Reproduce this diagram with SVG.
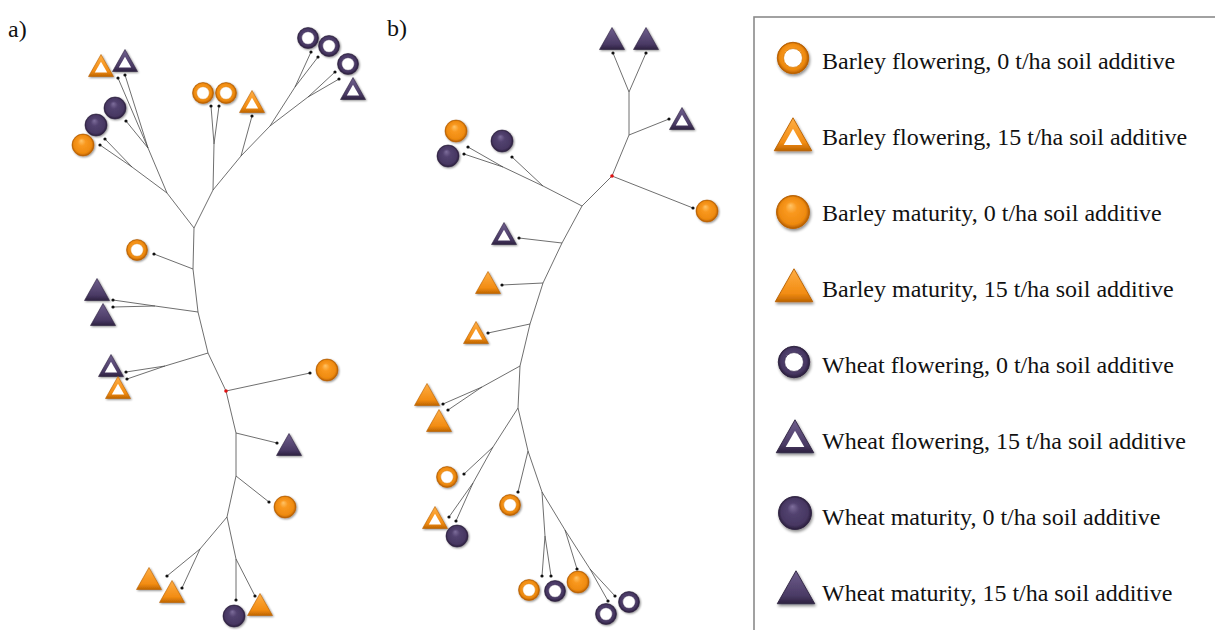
<svg xmlns="http://www.w3.org/2000/svg" xmlns:xlink="http://www.w3.org/1999/xlink" width="1215" height="630" viewBox="0 0 1215 630">
<style>
.edge{fill:none;stroke:#4a4a4a;stroke-width:0.8}
.tip{fill:#111}
.lbl{font-family:"Liberation Serif","Times New Roman",serif;fill:#111}
.leg{font-family:"Liberation Serif","Times New Roman",serif;font-size:24px;fill:#111}
</style>
<defs>
<filter id="sh" x="-30%" y="-30%" width="160%" height="170%">
<feGaussianBlur in="SourceAlpha" stdDeviation="0.9"/>
<feOffset dx="0.6" dy="1.2" result="b"/>
<feComponentTransfer><feFuncA type="linear" slope="0.45"/></feComponentTransfer>
<feMerge><feMergeNode/><feMergeNode in="SourceGraphic"/></feMerge>
</filter>
<radialGradient id="og" cx="0.5" cy="0.5" r="0.5" fx="0.42" fy="0.3">
<stop offset="0" stop-color="#FFC467"/><stop offset="0.35" stop-color="#F9981F"/><stop offset="0.82" stop-color="#EE8A0F"/><stop offset="1" stop-color="#B45C00"/>
</radialGradient>
<radialGradient id="pg" cx="0.5" cy="0.5" r="0.5" fx="0.42" fy="0.3">
<stop offset="0" stop-color="#7E6E9C"/><stop offset="0.35" stop-color="#52426F"/><stop offset="0.82" stop-color="#473762"/><stop offset="1" stop-color="#2A1E3C"/>
</radialGradient>
<linearGradient id="otg" x1="0" y1="0" x2="0" y2="1">
<stop offset="0" stop-color="#FFAE45"/><stop offset="0.75" stop-color="#F28C12"/><stop offset="1" stop-color="#BE6500"/>
</linearGradient>
<linearGradient id="ptg" x1="0" y1="0" x2="0" y2="1">
<stop offset="0" stop-color="#6F5F8D"/><stop offset="0.75" stop-color="#4A3A65"/><stop offset="1" stop-color="#2E2240"/>
</linearGradient>
<g id="bf0" filter="url(#sh)"><circle r="10.5" fill="url(#og)" stroke="#B86000" stroke-width="0.6"/><circle r="6.3" fill="#fff" stroke="#D67A08" stroke-width="0.5"/></g>
<g id="wf0" filter="url(#sh)"><circle r="10.5" fill="url(#pg)" stroke="#2E2240" stroke-width="0.6"/><circle r="6.3" fill="#fff" stroke="#3C2E52" stroke-width="0.5"/></g>
<g id="bm0" filter="url(#sh)"><circle r="11" fill="url(#og)" stroke="#B86000" stroke-width="0.6"/></g>
<g id="wm0" filter="url(#sh)"><circle r="11" fill="url(#pg)" stroke="#2E2240" stroke-width="0.6"/></g>
<g id="bf15" filter="url(#sh)"><polygon points="0,-11.5 12.5,10.5 -12.5,10.5" fill="url(#otg)" stroke="#B86000" stroke-width="0.6" stroke-linejoin="round"/><polygon points="0,-4.2 6.2,6.6 -6.2,6.6" fill="#fff"/></g>
<g id="wf15" filter="url(#sh)"><polygon points="0,-11.5 12.5,10.5 -12.5,10.5" fill="url(#ptg)" stroke="#2E2240" stroke-width="0.6" stroke-linejoin="round"/><polygon points="0,-4.2 6.2,6.6 -6.2,6.6" fill="#fff"/></g>
<g id="bm15" filter="url(#sh)"><polygon points="0,-11.5 12.5,10.5 -12.5,10.5" fill="url(#otg)" stroke="#B86000" stroke-width="0.6" stroke-linejoin="round"/></g>
<g id="wm15" filter="url(#sh)"><polygon points="0,-11.5 12.5,10.5 -12.5,10.5" fill="url(#ptg)" stroke="#2E2240" stroke-width="0.6" stroke-linejoin="round"/></g>
</defs>
<rect width="1215" height="630" fill="#fff"/>

<text class="lbl" x="8" y="37" font-size="24">a)</text>
<text class="lbl" x="387" y="36" font-size="24">b)</text>

<g id="connectors">
<!-- tree a -->
<polyline class="edge" points="194,228 193,269 198,312 208,353 226,391 236,433 236,476 227,517"/>
<path class="edge" d="M194,228 L167,193 M194,228 L213,190
M167,193 L148,148 L118,78 M148,148 L125,75 M148,148 L126,121
M167,193 L132,167 L105,139 M132,167 L100,145
M213,190 L214,144 L211,106 M214,144 L219,106
M213,190 L241,156 L252,116 M241,156 L270,126 L295,87 L311,52 M295,87 L318,57 M270,126 L308,97 L335,72 M308,97 L339,79
M193,269 L154,254
M198,312 L155,306 L113,300 M155,306 L113,307
M208,353 L165,366 L126,372 M165,366 L127,379
M226,391 L310,373
M236,433 L277,443
M236,476 L269,502
M227,517 L200,549 L167,576 M200,549 L182,588
M227,517 L236,559 L236,600 M236,559 L255,596"/>
<!-- tree b -->
<polyline class="edge" points="629,92 629,135 612,176 582,206 562,243 543,283 530,324 520,366 518,408"/>
<path class="edge" d="M629,92 L613,53 M629,92 L646,53
M629,135 L669,119
M612,176 L693,208
M582,206 L543,186 L503,167 L468,147 M503,167 L464,154 M543,186 L512,157
M562,243 L519,238
M543,283 L502,285
M530,324 L488,333
M520,366 L482,387 L443,404 M482,387 L448,410
M518,408 L493,447 L464,474 M493,447 L473,483 L449,517 M473,483 L456,521
M518,408 L528,451 L518,492 M528,451 L542,492 L545,536 L542,576 M545,536 L551,576
M542,492 L565,530 L577,569 M565,530 L590,569 L608,601 M590,569 L615,596"/>
<g class="tip">
<circle cx="154" cy="254" r="1.6"/><circle cx="113" cy="300" r="1.6"/><circle cx="113" cy="307" r="1.6"/><circle cx="126" cy="372" r="1.6"/><circle cx="127" cy="379" r="1.6"/><circle cx="310" cy="373" r="1.6"/><circle cx="277" cy="443" r="1.6"/><circle cx="269" cy="502" r="1.6"/><circle cx="167" cy="576" r="1.6"/><circle cx="182" cy="588" r="1.6"/><circle cx="236" cy="600" r="1.6"/><circle cx="255" cy="596" r="1.6"/><circle cx="118" cy="78" r="1.6"/><circle cx="125" cy="75" r="1.6"/><circle cx="126" cy="121" r="1.6"/><circle cx="105" cy="139" r="1.6"/><circle cx="100" cy="145" r="1.6"/><circle cx="211" cy="106" r="1.6"/><circle cx="219" cy="106" r="1.6"/><circle cx="252" cy="116" r="1.6"/><circle cx="311" cy="52" r="1.6"/><circle cx="318" cy="57" r="1.6"/><circle cx="335" cy="72" r="1.6"/><circle cx="339" cy="79" r="1.6"/>
<circle cx="613" cy="53" r="1.6"/><circle cx="646" cy="53" r="1.6"/><circle cx="669" cy="119" r="1.6"/><circle cx="693" cy="208" r="1.6"/><circle cx="468" cy="147" r="1.6"/><circle cx="464" cy="154" r="1.6"/><circle cx="512" cy="157" r="1.6"/><circle cx="519" cy="238" r="1.6"/><circle cx="502" cy="285" r="1.6"/><circle cx="488" cy="333" r="1.6"/><circle cx="443" cy="404" r="1.6"/><circle cx="448" cy="410" r="1.6"/><circle cx="464" cy="474" r="1.6"/><circle cx="449" cy="517" r="1.6"/><circle cx="456" cy="521" r="1.6"/><circle cx="518" cy="492" r="1.6"/><circle cx="542" cy="576" r="1.6"/><circle cx="551" cy="576" r="1.6"/><circle cx="577" cy="569" r="1.6"/><circle cx="608" cy="601" r="1.6"/><circle cx="615" cy="596" r="1.6"/>
</g>
<circle cx="226" cy="391" r="1.8" fill="#e01010"/>
<circle cx="612" cy="176" r="1.8" fill="#e01010"/>
</g>

<!-- tree a leaves -->
<g id="a01"><use href="#bf15" x="101" y="66"/></g>
<g id="a02"><use href="#wf15" x="125" y="61"/></g>
<g id="a03"><use href="#wm0" x="115" y="108"/></g>
<g id="a04"><use href="#wm0" x="96" y="125"/></g>
<g id="a05"><use href="#bm0" x="83" y="145"/></g>
<g id="a06"><use href="#bf0" x="203" y="93"/></g>
<g id="a07"><use href="#bf0" x="226" y="93"/></g>
<g id="a08"><use href="#bf15" x="252" y="102"/></g>
<g id="a09"><use href="#wf0" x="308" y="38"/></g>
<g id="a10"><use href="#wf0" x="329" y="46"/></g>
<g id="a11"><use href="#wf0" x="348" y="64"/></g>
<g id="a12"><use href="#wf15" x="353" y="89"/></g>
<g id="a13"><use href="#bf0" x="137" y="250"/></g>
<g id="a14"><use href="#wm15" x="97" y="290"/></g>
<g id="a15"><use href="#wm15" x="103" y="315"/></g>
<g id="a16"><use href="#wf15" x="111" y="366"/></g>
<g id="a17"><use href="#bf15" x="118" y="388"/></g>
<g id="a18"><use href="#bm0" x="327" y="370"/></g>
<g id="a19"><use href="#wm15" x="289" y="445"/></g>
<g id="a20"><use href="#bm0" x="285" y="507"/></g>
<g id="a21"><use href="#bm15" x="149" y="579"/></g>
<g id="a22"><use href="#bm15" x="172" y="592"/></g>
<g id="a23"><use href="#wm0" x="234" y="616"/></g>
<g id="a24"><use href="#bm15" x="260" y="605"/></g>

<!-- tree b leaves -->
<g id="b01"><use href="#wm15" x="612" y="39"/></g>
<g id="b02"><use href="#wm15" x="646" y="39"/></g>
<g id="b03"><use href="#wf15" x="682" y="119"/></g>
<g id="b04"><use href="#bm0" x="707" y="211"/></g>
<g id="b05"><use href="#bm0" x="456" y="131"/></g>
<g id="b06"><use href="#wm0" x="448" y="156"/></g>
<g id="b07"><use href="#wm0" x="502" y="141"/></g>
<g id="b08"><use href="#wf15" x="504" y="234"/></g>
<g id="b09"><use href="#bm15" x="488" y="283"/></g>
<g id="b10"><use href="#bf15" x="476" y="333"/></g>
<g id="b11"><use href="#bm15" x="427" y="395"/></g>
<g id="b12"><use href="#bm15" x="439" y="421"/></g>
<g id="b13"><use href="#bf0" x="447" y="477"/></g>
<g id="b14"><use href="#bf15" x="435" y="518"/></g>
<g id="b15"><use href="#wm0" x="457" y="536"/></g>
<g id="b16"><use href="#bf0" x="510" y="505"/></g>
<g id="b17"><use href="#bf0" x="529" y="590"/></g>
<g id="b18"><use href="#wf0" x="555" y="591"/></g>
<g id="b19"><use href="#bm0" x="578" y="582"/></g>
<g id="b20"><use href="#wf0" x="606" y="614"/></g>
<g id="b21"><use href="#wf0" x="629" y="602"/></g>

<!-- legend -->
<g id="legend">
<rect x="754" y="17" width="480" height="640" fill="none" stroke="#8a8a8a" stroke-width="1.6"/>
<g id="leg1"><use href="#bf0" transform="translate(793,58) scale(1.5)"/><text class="leg" x="822" y="69">Barley flowering, 0 t/ha soil additive</text></g>
<g id="leg2"><use href="#bf15" transform="translate(793,135) scale(1.5)"/><text class="leg" x="822" y="145">Barley flowering, 15 t/ha soil additive</text></g>
<g id="leg3"><use href="#bm0" transform="translate(793,212) scale(1.5)"/><text class="leg" x="822" y="221">Barley maturity, 0 t/ha soil additive</text></g>
<g id="leg4"><use href="#bm15" transform="translate(794,286) scale(1.5)"/><text class="leg" x="822" y="297">Barley maturity, 15 t/ha soil additive</text></g>
<g id="leg5"><use href="#wf0" transform="translate(794,362) scale(1.5)"/><text class="leg" x="822" y="373">Wheat flowering, 0 t/ha soil additive</text></g>
<g id="leg6"><use href="#wf15" transform="translate(795,437) scale(1.5)"/><text class="leg" x="822" y="449">Wheat flowering, 15 t/ha soil additive</text></g>
<g id="leg7"><use href="#wm0" transform="translate(795,513) scale(1.5)"/><text class="leg" x="822" y="525">Wheat maturity, 0 t/ha soil additive</text></g>
<g id="leg8"><use href="#wm15" transform="translate(796,588) scale(1.5)"/><text class="leg" x="822" y="601">Wheat maturity, 15 t/ha soil additive</text></g>
</g>
</svg>
